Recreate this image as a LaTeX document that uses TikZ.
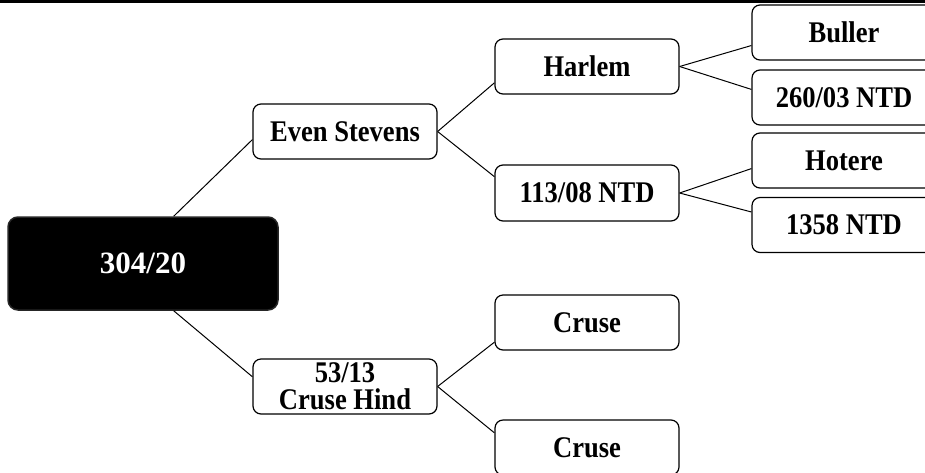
\documentclass[tikz,border=0pt]{standalone}
\usepackage{fontspec}
\setmainfont{Liberation Serif}[FakeStretch=0.885]
\newfontfamily\rootfont{Liberation Serif}
\tikzset{
	leaf/.style={draw, line width=1.2pt, rounded corners=8pt, fill=white, minimum width=184pt, minimum height=55pt, inner sep=0pt, align=center, font=\bfseries\fontsize{30}{27}\selectfont},
	rootbox/.style={fill=black, draw=black!85, line width=1.5pt, rounded corners=10pt, text=white, minimum width=270pt, minimum height=93pt, inner sep=0pt, font=\rootfont\bfseries\fontsize{31}{31}\selectfont},
	link/.style={line width=1pt}
}
\begin{document}
\begin{tikzpicture}[x=1pt, y=-1pt]
\useasboundingbox (0,0) rectangle (925,472);
\clip (0,0) rectangle (925,472);
\fill (0,0) rectangle (925,3);
\node[rootbox] (root) at (143,263.5) {304/20};
\node[leaf] (even) at (345,131.5) {Even Stevens};
\node[leaf] (cruseh) at (345,386.5) {53/13\\Cruse Hind};
\node[leaf] (harlem) at (587,66.5) {Harlem};
\node[leaf, minimum height=56pt] (ntd113) at (587,193) {113/08 NTD};
\node[leaf] (cruseA) at (587,322.5) {Cruse};
\node[leaf] (cruseB) at (587,447.5) {Cruse};
\node[leaf] (buller) at (844,32.5) {Buller};
\node[leaf] (ntd260) at (844,97.5) {260/03 NTD};
\node[leaf] (hotere) at (844,160.5) {Hotere};
\node[leaf] (ntd1358) at (844,225) {1358 NTD};
\foreach \a/\b in {root.57/even.185, root.-57/cruseh.174,
	even.east/harlem.190, even.east/ntd113.170,
	harlem.east/buller.188, harlem.east/ntd260.175,
	ntd113.east/hotere.185, ntd113.east/ntd1358.172,
	cruseh.east/cruseA.192.5, cruseh.east/cruseB.171} {
	\draw[link] (\a) -- (\b);
}
\end{tikzpicture}
\end{document}
